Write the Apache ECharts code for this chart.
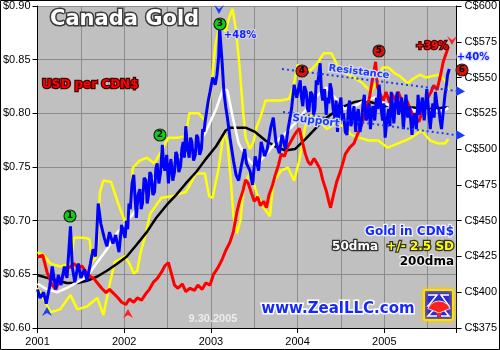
<!DOCTYPE html>
<html><head><meta charset="utf-8">
<script src="https://cdn.jsdelivr.net/npm/echarts@6/dist/echarts.min.js"></script>
<style>html,body{margin:0;padding:0;background:#fff}#c{width:500px;height:350px}</style>
</head><body><div id="c"></div>
<script>
// Gold in CDN$ (right axis, C$/oz)
const goldCad = [[2001.00,402],[2001.03,396],[2001.07,400],[2001.10,392],[2001.14,404],[2001.17,418],[2001.21,402],[2001.24,412],[2001.27,405],[2001.31,418],[2001.34,410],[2001.38,446],[2001.40,418],[2001.43,407],[2001.47,420],[2001.50,410],[2001.54,416],[2001.57,408],[2001.61,420],[2001.64,430],[2001.67,425],[2001.70,462],[2001.73,448],[2001.77,438],[2001.80,432],[2001.83,442],[2001.87,434],[2001.90,440],[2001.94,428],[2001.97,447],
[2002.01,438],[2002.025,450],[2002.04,444],[2002.055,462],[2002.07,458],[2002.09,476],[2002.11,482],[2002.125,466],[2002.14,452],[2002.16,468],[2002.18,472],[2002.195,458],[2002.21,462],[2002.23,480],[2002.25,478],[2002.265,462],[2002.28,468],[2002.295,484],[2002.31,482],[2002.33,468],[2002.35,470],[2002.365,486],[2002.38,490],[2002.40,476],[2002.42,484],[2002.44,503],[2002.455,488],[2002.47,485],[2002.49,496],[2002.51,476],[2002.525,488],[2002.54,493],[2002.56,478],[2002.58,484],[2002.595,498],[2002.61,496],[2002.63,484],[2002.65,488],[2002.665,500],[2002.68,505],[2002.695,494],[2002.71,516],[2002.73,500],[2002.75,494],[2002.765,508],[2002.78,505],[2002.80,492],[2002.82,496],[2002.835,510],[2002.85,508],[2002.87,496],[2002.89,500],[2002.905,514],[2002.92,512],[2002.935,520],[2002.95,526],[2002.97,534],[2002.99,540],
[2003.02,550],[2003.05,545],[2003.07,552],[2003.09,565],[2003.10,585],[2003.13,560],[2003.15,540],[2003.17,530],[2003.19,522],[2003.22,508],[2003.24,500],[2003.26,492],[2003.29,482],[2003.32,478],[2003.35,488],[2003.39,500],[2003.41,490],[2003.45,485],[2003.48,475],[2003.51,495],[2003.55,485],[2003.58,505],[2003.62,495],[2003.65,500],[2003.69,515],[2003.72,522],[2003.75,505],[2003.79,497],[2003.82,510],[2003.86,500],[2003.89,514],[2003.93,528],[2003.96,545],[2003.99,536],
[2004.03,548],[2004.045,536],[2004.06,530],[2004.08,544],[2004.10,540],[2004.115,528],[2004.13,526],[2004.15,540],[2004.17,538],[2004.185,524],[2004.20,528],[2004.215,548],[2004.23,545],[2004.245,552],[2004.26,560],[2004.275,540],[2004.29,534],[2004.31,542],[2004.33,524],[2004.345,536],[2004.36,532],[2004.375,546],[2004.39,542],[2004.41,528],[2004.43,522],[2004.445,534],[2004.46,512],[2004.48,530],[2004.50,536],[2004.515,520],[2004.53,525],[2004.55,512],[2004.57,510],[2004.585,528],[2004.60,534],[2004.615,516],[2004.63,520],[2004.65,530],[2004.67,512],[2004.685,524],[2004.70,528],[2004.72,512],[2004.74,520],[2004.755,532],[2004.77,538],[2004.79,520],[2004.81,524],[2004.825,532],[2004.84,514],[2004.855,526],[2004.87,530],[2004.89,520],[2004.91,536],[2004.925,528],[2004.94,545],[2004.96,530],[2004.98,520],[2004.995,532],
[2005.01,508],[2005.03,520],[2005.05,528],[2005.065,516],[2005.08,540],[2005.095,530],[2005.11,518],[2005.13,532],[2005.15,540],[2005.165,524],[2005.18,528],[2005.20,536],[2005.22,514],[2005.235,526],[2005.25,538],[2005.27,522],[2005.29,530],[2005.305,520],[2005.32,510],[2005.335,522],[2005.35,525],[2005.37,514],[2005.39,538],[2005.405,524],[2005.42,528],[2005.44,536],[2005.46,520],[2005.475,530],[2005.49,542],[2005.51,528],[2005.53,514],[2005.545,524],[2005.56,532],[2005.575,522],[2005.59,540],[2005.61,530],[2005.63,528],[2005.645,520],[2005.66,514],[2005.68,526],[2005.70,538],[2005.715,544],[2005.73,552],[2005.75,556]];
// USD per CDN$ (left axis)
const usdPerCad = [[2001.00,0.666],[2001.06,0.668],[2001.11,0.652],[2001.17,0.640],[2001.21,0.636],[2001.24,0.642],[2001.29,0.648],[2001.33,0.655],[2001.38,0.657],[2001.42,0.660],[2001.47,0.656],[2001.51,0.658],[2001.56,0.652],[2001.61,0.648],[2001.65,0.646],[2001.70,0.641],[2001.74,0.637],[2001.79,0.633],[2001.83,0.636],[2001.88,0.632],[2001.93,0.628],[2001.97,0.624],[2002.02,0.622],[2002.06,0.627],[2002.11,0.624],[2002.15,0.628],[2002.20,0.626],[2002.25,0.632],[2002.29,0.636],[2002.34,0.643],[2002.38,0.646],[2002.43,0.652],[2002.47,0.658],[2002.51,0.661],[2002.54,0.652],[2002.58,0.640],[2002.62,0.637],[2002.67,0.641],[2002.71,0.634],[2002.76,0.637],[2002.81,0.635],[2002.85,0.640],[2002.90,0.636],[2002.94,0.642],[2002.99,0.640],[2003.03,0.650],[2003.08,0.656],[2003.13,0.664],[2003.17,0.672],[2003.22,0.680],[2003.26,0.690],[2003.30,0.708],[2003.33,0.718],[2003.37,0.728],[2003.40,0.738],[2003.43,0.735],[2003.47,0.725],[2003.50,0.718],[2003.54,0.722],[2003.57,0.714],[2003.61,0.718],[2003.64,0.712],[2003.67,0.724],[2003.71,0.733],[2003.74,0.742],[2003.78,0.752],[2003.81,0.762],[2003.85,0.760],[2003.88,0.768],[2003.91,0.772],[2003.95,0.778],[2003.98,0.782],[2004.02,0.786],[2004.05,0.775],[2004.09,0.762],[2004.12,0.755],[2004.15,0.752],[2004.19,0.758],[2004.22,0.754],[2004.26,0.748],[2004.29,0.738],[2004.33,0.728],[2004.36,0.718],[2004.38,0.712],[2004.42,0.726],[2004.45,0.736],[2004.49,0.745],[2004.53,0.756],[2004.55,0.762],[2004.60,0.768],[2004.65,0.772],[2004.69,0.780],[2004.74,0.790],[2004.78,0.800],[2004.83,0.815],[2004.86,0.830],[2004.90,0.848],[2004.92,0.825],[2004.95,0.818],[2004.99,0.812],[2005.02,0.820],[2005.06,0.810],[2005.09,0.818],[2005.13,0.812],[2005.16,0.820],[2005.19,0.814],[2005.23,0.806],[2005.26,0.812],[2005.30,0.804],[2005.33,0.798],[2005.37,0.794],[2005.40,0.792],[2005.43,0.800],[2005.47,0.806],[2005.50,0.814],[2005.54,0.820],[2005.57,0.826],[2005.61,0.822],[2005.65,0.836],[2005.68,0.848],[2005.71,0.855],[2005.74,0.862]];
// 200dma of gold in CDN$
const dma200 = [[2001.00,412],[2001.11,410],[2001.23,408],[2001.34,406.5],[2001.46,406.5],[2001.57,408],[2001.69,411],[2001.80,415],[2001.91,419.5],[2002.03,425],[2002.14,433],[2002.26,442],[2002.37,452],[2002.49,461],[2002.60,468],[2002.71,476],[2002.83,484],[2002.94,493],[2003.06,502],[2003.17,513],[2003.23,515],[2003.29,515],[2003.40,515],[2003.51,512],[2003.63,506],[2003.74,502],[2003.86,499],[2003.97,500],[2004.09,507],[2004.20,514],[2004.31,521],[2004.43,526],[2004.54,530],[2004.66,533],[2004.77,534],[2004.89,532],[2005.00,530],[2005.11,531],[2005.23,529],[2005.34,529],[2005.46,528],[2005.57,528],[2005.69,529],[2005.74,529]];
// 50dma of gold in CDN$
const dma50 = [[2001.00,406],[2001.11,402],[2001.23,400],[2001.34,403],[2001.46,407],[2001.57,411],[2001.69,421],[2001.80,430],[2001.91,441],[2002.03,449],[2002.14,458],[2002.26,471],[2002.37,482],[2002.49,490],[2002.60,493],[2002.71,497],[2002.83,502],[2002.94,512],[2003.06,528],[2003.14,542],[2003.19,541],[2003.26,520],[2003.32,504],[2003.40,495],[2003.51,488],[2003.63,496],[2003.74,504],[2003.86,511],[2003.97,518],[2004.09,527],[2004.20,536],[2004.33,543],[2004.43,536],[2004.54,528],[2004.66,530],[2004.77,534],[2004.89,536],[2005.00,532],[2005.11,529],[2005.23,531],[2005.34,527],[2005.46,527],[2005.57,527],[2005.69,527],[2005.74,529]];
// 50dma + 2.5 SD
const bandUpper = [[2001.00,428],[2001.07,426],[2001.15,420],[2001.26,418],[2001.38,420],[2001.42,438],[2001.55,438],[2001.60,437],[2001.63,421],[2001.68,425],[2001.72,470],[2001.76,478],[2001.85,477],[2001.93,462],[2002.01,449],[2002.06,455],[2002.10,487],[2002.18,492],[2002.26,494],[2002.35,490],[2002.43,499],[2002.51,508],[2002.61,508],[2002.71,509],[2002.75,525],[2002.86,525],[2002.93,520],[2002.99,535],[2003.05,572],[2003.11,590],[2003.17,582],[2003.21,592],[2003.25,598],[2003.29,583],[2003.33,558],[2003.37,527],[2003.40,508],[2003.45,500],[2003.49,505],[2003.53,516],[2003.57,522],[2003.63,534],[2003.67,534],[2003.80,534],[2003.90,535],[2003.95,543],[2004.00,559],[2004.06,556],[2004.15,555],[2004.23,560],[2004.30,567],[2004.39,567],[2004.47,557],[2004.55,553],[2004.65,550],[2004.75,546],[2004.85,540],[2004.92,548],[2004.98,557],[2005.05,557],[2005.12,553],[2005.18,551],[2005.27,546],[2005.33,549],[2005.41,552],[2005.48,550],[2005.55,551],[2005.63,552],[2005.70,548],[2005.74,541]];
// 50dma - 2.5 SD
const bandLower = [[2001.00,403],[2001.07,395],[2001.15,386],[2001.26,388],[2001.38,398],[2001.46,388],[2001.57,390],[2001.69,396],[2001.76,384],[2001.83,405],[2001.89,421],[2002.01,425],[2002.06,420],[2002.11,413],[2002.15,415],[2002.19,428],[2002.25,441],[2002.30,455],[2002.43,466],[2002.55,467],[2002.71,470],[2002.83,483],[2002.93,483],[2002.98,467],[2003.02,466],[2003.09,487],[2003.15,512],[2003.19,505],[2003.23,478],[2003.26,453],[2003.30,441],[2003.34,450],[2003.38,473],[2003.45,484],[2003.53,469],[2003.60,460],[2003.68,453],[2003.72,477],[2003.81,485],[2003.89,487],[2003.96,478],[2004.02,492],[2004.08,513],[2004.12,524],[2004.22,522],[2004.34,514],[2004.44,518],[2004.53,516],[2004.62,510],[2004.71,508],[2004.82,506],[2004.93,506],[2005.04,501],[2005.16,504],[2005.24,506],[2005.31,508],[2005.43,513],[2005.53,506],[2005.62,504],[2005.70,504],[2005.74,507]];
// axis ticks
const leftTicks = [0.60, 0.65, 0.70, 0.75, 0.80, 0.85, 0.90];
const rightTicks = [375, 400, 425, 450, 475, 500, 525, 550, 575, 600];
const yearTicks = [2001, 2002, 2003, 2004, 2005];

const chart = echarts.init(document.getElementById('c'), null, {renderer: 'canvas'});
const axisFont = {fontFamily: 'Liberation Sans, Arial', fontSize: 11, color: '#000'};
const f = s => 'bold ' + s + 'px "DejaVu Sans", Verdana, sans-serif';

function circle(x, y, n, fillC) {
  return [
    {type: 'circle', shape: {cx: x, cy: y, r: 6}, style: {fill: fillC, stroke: '#222', lineWidth: 1.2}, z: 100},
    {type: 'text', x: x, y: y, style: {text: String(n), font: 'bold 9px "DejaVu Sans"', fill: '#000', align: 'center', verticalAlign: 'middle'}, z: 101}
  ];
}
function tri(points, color) {
  return {type: 'polygon', shape: {points: points}, style: {fill: color}, z: 100};
}

const graphics = [
  {type: 'rect', shape: {x: 0.5, y: 0.5, width: 499, height: 349}, style: {fill: 'none', stroke: '#000', lineWidth: 1}, z: 200},
  {type: 'text', x: 50, y: 9, style: {text: 'Canada Gold', font: f(21), fill: '#fff', stroke: '#3a3a3a', lineWidth: 3, shadowColor: 'rgba(0,0,0,0.5)', shadowBlur: 2, shadowOffsetX: 1, shadowOffsetY: 1}, z: 100},
  {type: 'text', x: 42, y: 79, style: {text: 'USD per CDN$', font: f(12), fill: '#ff0000', stroke: '#400000', lineWidth: 2.5}, z: 100},
  {type: 'text', x: 240, y: 35, style: {text: '+48%', font: f(10), fill: '#1020ff', stroke: '#d8d8e8', lineWidth: 2, align: 'center', verticalAlign: 'middle'}, z: 100},
  {type: 'text', x: 432, y: 46, style: {text: '+39%', font: f(10), fill: '#ff1010', stroke: '#500000', lineWidth: 2.5, align: 'center', verticalAlign: 'middle'}, z: 100},
  {type: 'text', x: 473, y: 57, style: {text: '+40%', font: f(10), fill: '#1020ff', stroke: '#e0e0ff', lineWidth: 2.5, align: 'center', verticalAlign: 'middle'}, z: 100},
  {type: 'line', shape: {x1: 282, y1: 69, x2: 456, y2: 91}, style: {stroke: '#1a3cff', lineWidth: 2, lineDash: [2, 3]}, z: 90},
  {type: 'line', shape: {x1: 283, y1: 112, x2: 456, y2: 135}, style: {stroke: '#1a3cff', lineWidth: 2, lineDash: [2, 3]}, z: 90},
  tri([[456, 86], [465, 91.5], [456, 96]], '#1a3cff'),
  tri([[456, 130], [465, 135.5], [456, 140]], '#1a3cff'),
  {type: 'text', x: 359, y: 72, rotation: -0.125, style: {text: 'Resistance', font: f(10), fill: '#1a3cff', stroke: '#dcdcf0', lineWidth: 2.5, align: 'center', verticalAlign: 'middle'}, z: 100},
  {type: 'text', x: 316, y: 121, rotation: -0.125, style: {text: 'Support', font: f(10.5), fill: '#1a3cff', stroke: '#dcdcf0', lineWidth: 2.5, align: 'center', verticalAlign: 'middle'}, z: 100},
  tri([[214, 5], [219, 9], [224, 5], [219, 14]], '#1a3cff'),
  tri([[42, 316], [47, 307], [52, 316], [47, 313]], '#1a3cff'),
  tri([[123, 318], [128, 309], [133, 318], [128, 315]], '#ff2020'),
  tri([[447, 36], [452, 40], [457, 36], [452, 45]], '#ff2020'),
  {type: 'text', x: 213, y: 319, style: {text: '9.30.2005', font: 'bold 11px "Liberation Sans", Arial', fill: '#ececec', align: 'center', verticalAlign: 'middle'}, z: 100},
  {type: 'text', x: 454, y: 232, style: {text: 'Gold in CDN$', font: f(12), fill: '#1428ff', stroke: '#f4f4ff', lineWidth: 2.5, align: 'right', verticalAlign: 'middle'}, z: 100},
  {type: 'text', x: 454, y: 247, style: {text: '+/- 2.5 SD', font: f(12), fill: '#ffff00', stroke: '#303030', lineWidth: 2.5, align: 'right', verticalAlign: 'middle'}, z: 100},
  {type: 'text', x: 378, y: 247, style: {text: '50dma', font: f(12), fill: '#ffffff', stroke: '#303030', lineWidth: 2.5, align: 'right', verticalAlign: 'middle'}, z: 100},
  {type: 'text', x: 454, y: 262, style: {text: '200dma', font: f(12), fill: '#000000', stroke: '#f0f0f0', lineWidth: 2.5, align: 'right', verticalAlign: 'middle'}, z: 100},
  {type: 'text', x: 338, y: 309, style: {text: 'www.ZealLLC.com', font: f(15), fill: '#1428ff', stroke: '#ffffff', lineWidth: 3, align: 'center', verticalAlign: 'middle'}, z: 100},
  {type: 'rect', shape: {x: 424, y: 290, width: 29, height: 30, r: 2}, style: {fill: '#2a2ad0', stroke: '#ffe000', lineWidth: 2, shadowColor: '#ffcc00', shadowBlur: 4}, z: 100},
  {type: 'polyline', shape: {points: [[428, 295], [437, 295], [428, 306], [437, 306], [428, 316], [437, 316]]}, style: {stroke: '#fff', lineWidth: 1.5, fill: 'none'}, z: 101},
  {type: 'polyline', shape: {points: [[449, 295], [441, 295], [449, 306], [441, 306], [449, 316], [441, 316]]}, style: {stroke: '#fff', lineWidth: 1.5, fill: 'none'}, z: 101},
  {type: 'sector', shape: {cx: 439, cy: 313, r: 12, r0: 0, startAngle: Math.PI * 1.12, endAngle: Math.PI * 1.88}, style: {fill: '#ff2020', stroke: '#fff', lineWidth: 0.8}, z: 102},
  {type: 'polygon', shape: {points: [[436, 313], [439, 318], [442, 313]]}, style: {fill: '#ff2020'}, z: 102}
];
[[70, 216, 1, '#10d010'], [160, 135, 2, '#10d010'], [220, 24, 3, '#10d010'], [302, 71, 4, '#e01010'], [379, 51, 5, '#e01010'], [462, 70, 6, '#e01010']]
  .forEach(c => circle(c[0], c[1], c[2], c[3]).forEach(g => graphics.push(g)));

const lineS = (name, data, color, yIdx, w, z) => ({
  name, type: 'line', data, xAxisIndex: 0, yAxisIndex: yIdx, showSymbol: false, symbol: 'none',
  lineStyle: {color, width: w}, z, animation: false
});

chart.setOption({
  backgroundColor: '#ffffff',
  animation: false,
  grid: {left: 37, right: 40, top: 6, bottom: 22, show: true, backgroundColor: '#c0c0c0', borderWidth: 0},
  xAxis: [
    {type: 'value', min: 2001, max: 2005.834, interval: 1,
      axisLine: {show: true, onZero: false, lineStyle: {color: '#000', width: 1}},
      axisTick: {show: true, length: 5, lineStyle: {color: '#000'}},
      axisLabel: Object.assign({margin: 8, formatter: v => yearTicks.includes(v) ? String(v) : ''}, axisFont),
      splitLine: {show: false}},
    {type: 'value', min: 2001, max: 2005.834, interval: 0.5, position: 'bottom',
      axisLine: {show: false}, axisTick: {show: false}, axisLabel: {show: false},
      splitLine: {show: true, lineStyle: {color: '#8c8c8c', width: 1}}}
  ],
  yAxis: [
    {type: 'value', min: 0.60, max: 0.90, interval: 0.05, position: 'left',
      axisLine: {show: true, lineStyle: {color: '#000'}},
      axisTick: {show: true, length: 5, lineStyle: {color: '#000'}},
      axisLabel: Object.assign({margin: 7, formatter: v => leftTicks.some(t => Math.abs(t - v) < 1e-6) ? '$' + v.toFixed(2) : ''}, axisFont),
      splitLine: {show: true, lineStyle: {color: '#8c8c8c', width: 1}}},
    {type: 'value', min: 375, max: 600, interval: 25, position: 'right',
      axisLine: {show: true, lineStyle: {color: '#000'}},
      axisTick: {show: true, length: 5, lineStyle: {color: '#000'}},
      axisLabel: Object.assign({margin: 8, formatter: v => rightTicks.includes(v) ? 'C$' + v : ''}, axisFont),
      splitLine: {show: false}}
  ],
  series: [
    lineS('Upper band', bandUpper, '#ffff00', 1, 2.5, 2),
    lineS('Lower band', bandLower, '#ffff00', 1, 2.5, 2),
    lineS('200dma', dma200, '#000000', 1, 2.5, 3),
    lineS('50dma', dma50, '#ffffff', 1, 2.5, 4),
    lineS('USD per CDN$', usdPerCad, '#ff0000', 0, 3, 5),
    lineS('Gold in CDN$', goldCad, '#0000ff', 1, 3, 6)
  ],
  graphic: graphics
});
</script>
</body></html>
